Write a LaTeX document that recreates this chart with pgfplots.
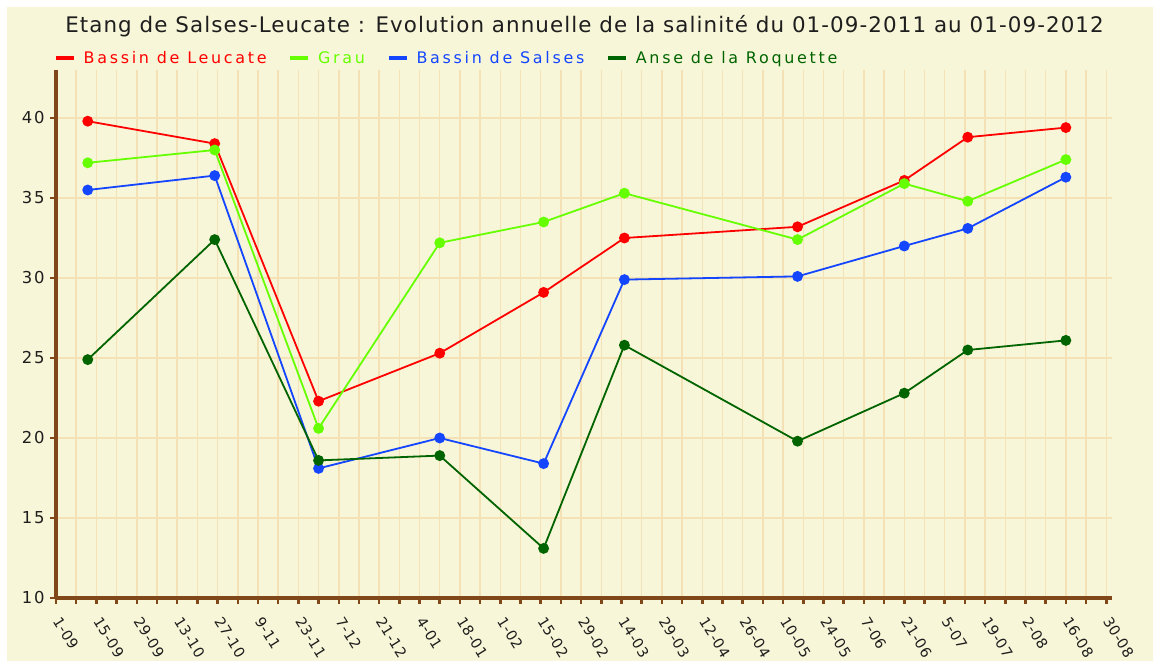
\documentclass[border=0pt]{standalone}
\usepackage{pgfplots}
\pgfplotsset{compat=1.18}
\usepackage{fontspec}
\setmainfont{DejaVu Sans}
\newfontfamily\spaced[LetterSpace=10]{DejaVu Sans}
\newfontfamily\xspaced[LetterSpace=3]{DejaVu Sans}
\newfontfamily\legspaced[LetterSpace=17]{DejaVu Sans}
\newfontfamily\titlespaced[LetterSpace=5]{DejaVu Sans}
\definecolor{bgcream}{RGB}{248,246,216}
\definecolor{gridc}{RGB}{244,226,182}
\definecolor{axbrown}{RGB}{128,72,24}
\definecolor{sred}{RGB}{255,0,0}
\definecolor{slime}{RGB}{102,255,0}
\definecolor{sblue}{RGB}{20,70,255}
\definecolor{sdg}{RGB}{0,100,0}
\definecolor{txt}{RGB}{30,30,30}
\begin{document}
\begin{tikzpicture}
\path[use as bounding box, fill=white] (0bp,0bp) rectangle (1153bp,661bp);
\fill[bgcream] (7bp,0bp) rectangle (1153bp,654bp);
\node[font=\titlespaced\fontsize{21.5}{25}\selectfont, text=txt, inner sep=0pt] at (584.5bp,635bp) {Etang de Salses-Leucate : Evolution annuelle de la salinité du 01-09-2011 au 01-09-2012};
\begin{axis}[
  at={(56bp,63bp)}, anchor=south west,
  scale only axis, width=1056bp, height=528bp,
  xmin=0, xmax=366, ymin=10, ymax=43,
  axis lines*=left,
  axis line style={axbrown, line width=3.5bp},
  xtick={0,14,...,364},
  xticklabels={1-09,15-09,29-09,13-10,27-10,9-11,23-11,7-12,21-12,4-01,18-01,1-02,15-02,29-02,14-03,29-03,12-04,26-04,10-05,24-05,7-06,21-06,5-07,19-07,2-08,16-08,30-08},
  minor xtick={7,21,...,357},
  ytick={10,15,...,40},
  grid=both,
  major grid style={gridc, line width=1.5bp},
  minor grid style={gridc, line width=1.5bp},
  tick align=outside,
  major tick length=6bp, minor tick length=6bp,
  tick style={axbrown, line width=2.5bp},
  /pgf/number format/assume math mode=true,
  yticklabel style={font=\spaced\fontsize{16.5}{18}\selectfont, text=txt, xshift=-2bp},
  xticklabel style={font=\xspaced\fontsize{14.5}{16}\selectfont, text=txt, xshift=-1bp, yshift=-12bp, rotate=-58, anchor=west},
  legend columns=4,
  legend style={at={(rel axis cs:0,1)}, anchor=west, yshift=12bp, xshift=-2bp, draw=none, fill=none, inner sep=0pt,
    font=\legspaced\fontsize{16}{18}\selectfont,
    /tikz/every odd column/.append style={column sep=6bp},
    /tikz/every even column/.append style={column sep=20bp}},
  legend image code/.code={\draw[line width=3.5bp] (0bp,0bp) -- (18bp,0bp);},
  every axis plot/.append style={line width=1.8bp, mark=*, mark size=4.5bp},
]
\addplot[sred, mark options={fill=sred, draw=sred}] coordinates {
(11,39.8) (55,38.4) (91,22.3) (133,25.3) (169,29.1) (197,32.5) (257,33.2) (294,36.1) (316,38.8) (350,39.4)};
\addlegendentry{\textcolor{sred}{Bassin de Leucate}}
\addplot[slime, mark options={fill=slime, draw=slime}] coordinates {
(11,37.2) (55,38.0) (91,20.6) (133,32.2) (169,33.5) (197,35.3) (257,32.4) (294,35.9) (316,34.8) (350,37.4)};
\addlegendentry{\textcolor{slime}{Grau}}
\addplot[sblue, mark options={fill=sblue, draw=sblue}] coordinates {
(11,35.5) (55,36.4) (91,18.1) (133,20.0) (169,18.4) (197,29.9) (257,30.1) (294,32.0) (316,33.1) (350,36.3)};
\addlegendentry{\textcolor{sblue}{Bassin de Salses}}
\addplot[sdg, mark options={fill=sdg, draw=sdg}] coordinates {
(11,24.9) (55,32.4) (91,18.6) (133,18.9) (169,13.1) (197,25.8) (257,19.8) (294,22.8) (316,25.5) (350,26.1)};
\addlegendentry{\textcolor{sdg}{Anse de la Roquette}}
\end{axis}
\end{tikzpicture}
\end{document}
